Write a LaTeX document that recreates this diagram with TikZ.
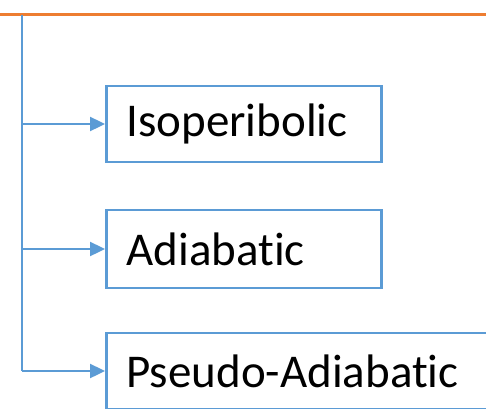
\documentclass[tikz,border=0pt]{standalone}
\usepackage{fontspec}
\setmainfont{Carlito}[Ligatures=CommonOff]
\usetikzlibrary{arrows.meta}
\definecolor{offblue}{HTML}{5B9BD5}
\definecolor{offorange}{HTML}{ED7D31}
\begin{document}
\begin{tikzpicture}[x=1pt,y=1pt,
  catbox/.style={draw=offblue, line width=2.8pt, rectangle, anchor=west,
    minimum height=76pt, inner xsep=20pt, inner ysep=0pt, text width=235pt, align=left,
    font=\fontsize{47}{52}\selectfont},
  link/.style={draw=offblue, line width=2.4pt},
  arr/.style={link, -{Triangle[length=15pt,width=14pt]}}]
\useasboundingbox (0,0) rectangle (486,408);
\clip (0,0) rectangle (486,408);
\draw[draw=offorange, line width=3pt] (0,393.5) -- (486,393.5);
\coordinate (top) at (22,393);
\node[catbox] (n1) at (105,284) {Isoperibolic};
\node[catbox, minimum height=78pt] (n2) at (105,159) {Adiabatic};
\node[catbox, text width=400pt] (n3) at (105,37) {Pseudo-Adiabatic};
\draw[link] (top) -- (top |- n3.west);
\draw[arr] (top |- n1.west) -- (n1.west);
\draw[arr] (top |- n2.west) -- (n2.west);
\draw[arr] (top |- n3.west) -- (n3.west);
\end{tikzpicture}
\end{document}
